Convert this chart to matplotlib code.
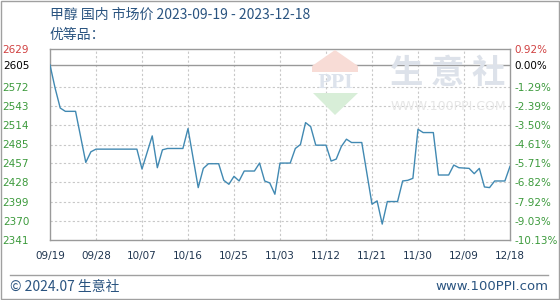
import matplotlib
matplotlib.use("Agg")
import matplotlib.pyplot as plt
from matplotlib.patches import Polygon, Rectangle
import pandas as pd

plt.rcParams['font.family'] = ['Noto Sans CJK SC', 'DejaVu Sans']

# 甲醇 国内市场价 (元/吨), 折线拐点
dates = ['09-19', '09-20', '09-21', '09-22', '09-24', '09-26', '09-27', '09-28',
         '10-06', '10-07', '10-09', '10-10', '10-11', '10-12', '10-15', '10-16',
         '10-18', '10-19', '10-20', '10-22', '10-23', '10-24', '10-25', '10-26',
         '10-27', '10-29', '10-30', '10-31', '11-01', '11-02', '11-03', '11-05',
         '11-06', '11-07', '11-08', '11-09', '11-10', '11-12', '11-13', '11-14',
         '11-15', '11-16', '11-17', '11-19', '11-21', '11-22', '11-23', '11-24',
         '11-26', '11-27', '11-28', '11-29', '11-30', '12-01', '12-03', '12-04',
         '12-06', '12-07', '12-08', '12-10', '12-11', '12-12', '12-13', '12-14',
         '12-15', '12-17', '12-18']
prices = [2605, 2570, 2540, 2535, 2535, 2458, 2474, 2478,
          2478, 2448, 2498, 2450, 2477, 2479, 2479, 2509,
          2420, 2449, 2456, 2456, 2431, 2425, 2437, 2430,
          2445, 2445, 2457, 2430, 2427, 2410, 2457, 2457,
          2479, 2485, 2518, 2512, 2484, 2484, 2460, 2463,
          2482, 2493, 2488, 2488, 2395, 2400, 2365, 2399,
          2399, 2430, 2431, 2434, 2508, 2503, 2503, 2439,
          2439, 2454, 2450, 2449, 2441, 2449, 2421, 2420,
          2430, 2430, 2452]

y_ticks = [2629, 2605, 2572, 2543, 2514, 2485, 2457, 2428, 2399, 2370, 2341]
pct_labels = ['0.92%', '0.00%', '-1.29%', '-2.39%', '-3.50%', '-4.61%',
              '-5.71%', '-6.82%', '-7.92%', '-9.03%', '-10.13%']
x_ticks = ['09-19', '09-28', '10-07', '10-16', '10-25', '11-03',
           '11-12', '11-21', '11-30', '12-09', '12-18']
base_price = 2605

x = pd.to_datetime(['2023-' + d for d in dates])
xt = pd.to_datetime(['2023-' + d for d in x_ticks])

fig = plt.figure(figsize=(5.6, 3.0), dpi=100)
ax = fig.add_axes([50/560, 1 - 240/300, 460/560, 191/300])

grid_c = '#c8c8c8'
for v in y_ticks[2:-1]:
    ax.axhline(v, color=grid_c, lw=0.8, ls=(0, (2, 2)), zorder=1)
for t in xt[1:-1]:
    ax.axvline(t, color=grid_c, lw=0.8, ls=(0, (2, 2)), zorder=1)
ax.axhline(base_price, color='#999999', lw=1.0, zorder=1)

ax.plot(x, prices, color='#4189b2', lw=1.0, zorder=3)

ax.set_xlim(xt[0], xt[-1])
ax.set_ylim(y_ticks[-1], y_ticks[0])
for s in ax.spines.values():
    s.set_color('#9a9a9a')
    s.set_linewidth(1.0)

ax.set_yticks(y_ticks)
ax.set_yticklabels([str(v) for v in y_ticks], family='DejaVu Sans', fontsize=7.5)
ax.tick_params(axis='y', length=0, pad=15)
cols = ['#d04040', '#000000'] + ['#3c9a3c'] * (len(y_ticks) - 2)
for lbl, c in zip(ax.get_yticklabels(), cols):
    lbl.set_color(c)

ax.set_xticks(xt)
ax.set_xticklabels([d.replace('-', '/') for d in x_ticks], family='DejaVu Sans',
                   fontsize=7.5, color='#1f3550')
ax.tick_params(axis='x', length=0, pad=8)

ax2 = ax.twinx()
ax2.set_ylim(ax.get_ylim())
ax2.set_yticks(y_ticks)
ax2.set_yticklabels(pct_labels, family='DejaVu Sans', fontsize=7.5)
ax2.tick_params(axis='y', length=0, pad=3)
for lbl, c in zip(ax2.get_yticklabels(), cols):
    lbl.set_color(c)
for s in ax2.spines.values():
    s.set_visible(False)

# 水印
fig.patches.append(Polygon([(312/560, 1-72/300), (312/560, 1-66/300), (335/560, 1-50/300),
                            (358/560, 1-66/300), (358/560, 1-72/300)], closed=True,
                           transform=fig.transFigure, fc='#f8dcd6', ec='none', zorder=0))
fig.patches.append(Polygon([(313/560, 1-93/300), (358/560, 1-93/300), (335/560, 1-115/300)],
                           closed=True, transform=fig.transFigure, fc='#d8eed8', ec='none', zorder=0))
fig.text(335/560, 1-83/300, 'PPI', ha='center', va='center', fontsize=13, color='#dde3ec',
         family='DejaVu Serif', fontweight='bold', zorder=0)
fig.text(448/560, 1-74/300, '生 意 社', ha='center', va='center', fontsize=24, color='#dde2ea',
         fontweight='bold', zorder=0)
fig.text(448/560, 1-107/300, 'WWW.100PPI.COM', ha='center', va='center', fontsize=9,
         color='#e6e6e6', family='DejaVu Sans', zorder=0)

title_c = '#2a5480'
fig.text(50/560, 1-15/300, '甲醇 国内 市场价 2023-09-19 - 2023-12-18', ha='left', va='center',
         fontsize=10, color=title_c)
fig.text(50/560, 1-35/300, '优等品：', ha='left', va='center', fontsize=10, color=title_c)

# 页脚
fig.add_artist(plt.Line2D([10/560, 548/560], [1-275/300, 1-275/300], color='#a0a0a0', lw=1.0))
fig.text(10/560, 1-287/300, '© 2024.07 生意社', ha='left', va='center', fontsize=10, color=title_c)
fig.text(548/560, 1-286/300, 'www.100PPI.com', ha='right', va='center', fontsize=9.5,
         color=title_c, family='DejaVu Sans')

fig.add_artist(Rectangle((0.001, 0.002), 0.997, 0.995, transform=fig.transFigure, fill=False,
                         ec='#a0a0a0', lw=1.0))

fig.savefig('out.png', dpi=100)
